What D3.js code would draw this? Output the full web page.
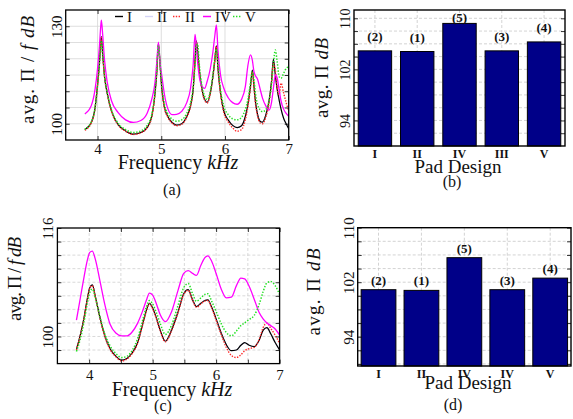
<!DOCTYPE html>
<html>
<head>
<meta charset="utf-8">
<script src="https://cdn.jsdelivr.net/npm/d3@7"></script>
<style>
  html, body { margin: 0; padding: 0; background: #fff; }
  svg { display: block; }
  text { font-family: "Liberation Serif", "Times New Roman", serif; fill: #111; }
</style>
</head>
<body>
<svg id="fig" width="573" height="419"></svg>
<script>
// ---------- (a) narrow-band spectra, Pad designs I-V ----------
const freqA = [3.8, 3.9, 3.96, 4.0, 4.03, 4.05, 4.06, 4.08, 4.11, 4.15, 4.22, 4.32, 4.44, 4.56, 4.68, 4.78,
  4.85, 4.9, 4.93, 4.955, 4.98, 5.01, 5.05, 5.1, 5.17, 5.24, 5.32, 5.4, 5.46, 5.5, 5.53, 5.55, 5.57, 5.6,
  5.64, 5.68, 5.72, 5.77, 5.81, 5.84, 5.865, 5.89, 5.93, 5.98, 6.05, 6.12, 6.19, 6.26, 6.32, 6.36, 6.4,
  6.43, 6.455, 6.48, 6.51, 6.55, 6.59, 6.64, 6.69, 6.73, 6.76, 6.79, 6.82, 6.85, 6.88, 6.92, 6.96, 7.0];

const specA_I = [98.2, 100.3, 104.8, 112.0, 119.0, 125.0, 126.8, 121.5, 114.5, 109.6, 103.8, 99.8, 97.8, 96.8, 97.3, 98.9,
  102.2, 109.0, 116.0, 124.7, 118.5, 110.5, 105.0, 102.3, 100.4, 99.6, 100.0, 102.2, 105.6, 110.5, 119.5, 125.5, 122.5, 116.0,
  110.5, 107.5, 106.6, 109.5, 114.5, 119.5, 124.0, 117.0, 109.5, 104.0, 101.2, 99.5, 98.8, 99.4, 102.3, 106.0, 111.5,
  116.5, 111.5, 106.5, 103.0, 100.8, 100.5, 102.6, 106.8, 113.0, 119.8, 115.0, 110.5, 107.3, 104.5, 101.7, 100.0, 98.5];

const specA_II = [98.2, 100.3, 104.8, 112.0, 119.0, 125.0, 126.8, 121.5, 114.5, 109.6, 103.8, 99.8, 97.8, 96.8, 97.3, 98.9,
  102.2, 109.0, 116.0, 124.7, 118.5, 110.5, 105.0, 102.3, 100.4, 99.6, 100.0, 102.2, 105.6, 110.5, 119.5, 125.5, 122.5, 116.0,
  110.5, 107.5, 106.6, 109.5, 114.5, 119.5, 124.0, 117.0, 109.5, 104.0, 101.2, 99.5, 98.8, 99.4, 102.3, 106.0, 111.5,
  116.5, 111.5, 106.5, 103.0, 100.8, 100.5, 102.6, 106.8, 113.0, 119.8, 115.0, 110.5, 107.3, 104.5, 101.7, 100.0, 98.5];

const specA_III = [98.0, 100.2, 104.6, 111.8, 118.8, 124.8, 126.5, 121.3, 114.3, 109.4, 103.7, 99.7, 97.7, 96.7, 97.2, 98.8,
  102.0, 108.8, 115.8, 124.5, 118.3, 110.3, 104.8, 102.1, 100.2, 99.4, 99.8, 102.0, 105.4, 110.3, 119.3, 125.3, 122.3, 115.8,
  110.3, 107.3, 106.4, 109.3, 114.3, 119.3, 123.8, 116.8, 109.2, 103.6, 100.6, 98.7, 97.7, 98.2, 101.3, 105.3, 111.0,
  116.0, 111.0, 106.0, 102.5, 100.3, 100.0, 102.0, 106.2, 112.5, 118.5, 116.5, 111.0, 109.0, 112.5, 109.5, 106.5, 104.0];

const specA_IV = [103.0, 105.5, 110.5, 117.0, 124.0, 130.0, 131.9, 127.5, 119.5, 113.0, 107.0, 103.5, 101.2, 100.4, 101.0, 103.3,
  107.5, 112.5, 119.0, 125.1, 119.0, 114.5, 109.0, 104.8, 102.8, 102.9, 103.8, 106.5, 111.0, 118.0, 127.5, 124.0, 119.0, 114.0,
  111.5, 110.9, 113.0, 117.0, 122.0, 127.0, 130.4, 122.5, 115.0, 111.0, 108.0, 106.5, 106.0, 107.5, 111.5, 118.0, 121.2,
  119.5, 116.0, 114.7, 113.8, 110.8, 107.8, 105.5, 104.2, 106.5, 111.0, 115.0, 114.0, 110.5, 107.0, 104.5, 103.2, 102.3];

const specA_V = [98.3, 100.5, 104.8, 111.5, 118.5, 124.5, 125.5, 121.5, 114.5, 109.8, 104.2, 100.2, 98.2, 97.3, 97.8, 99.6,
  102.8, 109.5, 116.5, 124.0, 119.0, 111.5, 106.0, 103.2, 101.4, 100.8, 101.2, 103.2, 106.5, 111.0, 118.0, 124.0, 124.5, 117.5,
  111.5, 108.5, 107.4, 110.0, 115.0, 120.0, 123.0, 118.5, 110.5, 105.5, 102.8, 101.5, 101.2, 102.0, 104.5, 107.5, 112.5,
  116.0, 113.5, 109.0, 106.0, 104.3, 103.7, 104.3, 107.0, 112.0, 118.5, 122.7, 119.0, 114.5, 114.0, 115.5, 117.0, 117.5];

// ---------- (c) smoothed spectra ----------
const freqC = [3.8, 3.86, 3.92, 3.97, 4.01, 4.05, 4.1, 4.17, 4.25, 4.33, 4.42, 4.51, 4.6, 4.68, 4.76, 4.84,
  4.9, 4.95, 5.0, 5.06, 5.12, 5.2, 5.3, 5.4, 5.49, 5.56, 5.63, 5.69, 5.76, 5.82, 5.87, 5.93, 6.0, 6.08,
  6.16, 6.24, 6.32, 6.39, 6.45, 6.52, 6.6, 6.68, 6.74, 6.8, 6.86, 6.93, 7.0];

const specC_I = [98.1, 100.2, 102.8, 105.5, 107.2, 107.6, 105.8, 102.8, 100.0, 98.2, 97.1, 96.5, 96.8, 97.6, 99.0, 101.7,
  103.8, 104.9, 104.2, 102.7, 100.9, 99.3, 101.0, 103.6, 106.3, 106.9, 105.4, 104.4, 104.9, 105.3, 105.4, 104.3, 102.6, 100.5,
  98.8, 97.9, 98.0, 98.7, 99.1, 98.7, 98.5, 99.5, 100.9, 101.3, 100.4, 99.1, 98.0];

const specC_II = [98.1, 100.2, 102.8, 105.5, 107.2, 107.6, 105.8, 102.8, 100.0, 98.2, 97.1, 96.5, 96.8, 97.6, 99.0, 101.7,
  103.8, 104.9, 104.2, 102.7, 100.9, 99.3, 101.0, 103.6, 106.3, 106.9, 105.4, 104.4, 104.9, 105.3, 105.4, 104.3, 102.6, 100.5,
  98.8, 97.9, 98.0, 98.7, 99.1, 98.7, 98.5, 99.5, 100.9, 101.3, 100.4, 99.1, 98.0];

const specC_III = [98.0, 100.1, 102.7, 105.4, 107.1, 107.5, 105.7, 102.7, 99.9, 98.1, 97.0, 96.4, 96.7, 97.5, 98.9, 101.6,
  103.7, 104.8, 104.1, 102.6, 100.8, 99.2, 100.9, 103.5, 106.2, 106.8, 105.3, 104.3, 104.8, 105.2, 105.3, 104.2, 102.4, 100.3,
  98.4, 97.2, 96.9, 97.3, 97.9, 98.2, 98.4, 99.6, 101.3, 102.0, 101.2, 100.2, 99.0];

const specC_IV = [102.4, 105.6, 108.8, 111.2, 112.4, 112.6, 111.3, 108.2, 104.6, 101.8, 100.5, 100.1, 100.1, 100.7, 101.9, 103.7,
  105.3, 106.4, 106.1, 104.8, 103.2, 102.2, 103.7, 106.8, 109.3, 109.7, 109.3, 109.0, 110.5, 111.6, 111.9, 111.1, 109.3, 107.0,
  105.7, 105.8, 107.5, 108.6, 108.5, 107.4, 105.5, 103.5, 102.6, 102.0, 101.6, 101.1, 100.2];

const specC_V = [97.8, 99.6, 102.2, 104.8, 106.5, 107.0, 105.6, 102.9, 100.3, 98.6, 97.5, 96.9, 97.1, 98.0, 99.6, 102.3,
  104.3, 105.3, 104.8, 103.5, 101.9, 100.3, 101.7, 104.6, 107.2, 107.8, 106.3, 105.2, 105.7, 106.2, 106.3, 105.2, 103.7, 101.9,
  100.6, 100.1, 100.8, 101.6, 102.0, 102.5, 103.1, 104.8, 106.6, 107.9, 108.1, 107.5, 106.2];

// ---------- (b), (d) band-averaged levels ----------
const padsB = ["I", "II", "IV", "III", "V"];
const avgB = [104.9, 104.8, 109.2, 104.9, 106.3];
const rankB = ["(2)", "(1)", "(5)", "(3)", "(4)"];

const padsD = ["I", "II", "IV", "IV", "V"];
const avgD = [100.9, 100.8, 105.6, 100.9, 102.6];
const rankD = ["(2)", "(1)", "(5)", "(3)", "(4)"];

// legend entries of the spectra
const legendNames = ["I", "II", "II", "IV", "V"];

const lineStyles = [
  { color: "#d4d4f6", dash: null, width: 1.2 },       // II (light)
  { color: "#000000", dash: null, width: 1.2 },       // I
  { color: "#ff2a2a", dash: "1.4,1.4", width: 1.4 },  // III
  { color: "#ff00ff", dash: null, width: 1.3 },       // IV
  { color: "#22e022", dash: "1.4,1.6", width: 1.5 }   // V
];

const svg = d3.select("#fig");

function styleAxis(g, size, weight) {
  g.select(".domain").remove();
  g.selectAll(".tick line").attr("stroke", "#000").attr("stroke-width", 0.8);
  g.selectAll("text")
    .attr("font-family", "'Liberation Serif','Times New Roman',serif")
    .attr("font-size", size)
    .attr("font-weight", weight || "normal")
    .attr("fill", "#111");
}

function rotateYLabels(g) {
  g.selectAll(".tick text")
    .attr("transform", "rotate(-90)")
    .attr("text-anchor", "middle")
    .attr("x", 0)
    .attr("y", -4)
    .attr("dy", 0);
}

function linePanel(o) {
  const x = d3.scaleLinear().domain(o.xDomain).range([o.left, o.right]);
  const y = d3.scaleLinear().domain(o.yDomain).range([o.bottom, o.top]);
  const g = svg.append("g");

  // grid
  const grid = g.append("g").attr("stroke", o.gridColor).attr("stroke-width", 0.8)
    .attr("stroke-dasharray", o.gridDash);
  grid.selectAll("line.gx").data(o.xGrid).join("line").attr("class", "gx")
    .attr("x1", d => x(d)).attr("x2", d => x(d)).attr("y1", o.top).attr("y2", o.bottom);
  grid.selectAll("line.gy").data(o.yGrid).join("line").attr("class", "gy")
    .attr("x1", o.left).attr("x2", o.right).attr("y1", d => y(d)).attr("y2", d => y(d));

  // curves
  const clipId = "clip-" + o.id;
  svg.append("clipPath").attr("id", clipId).append("rect")
    .attr("x", o.left).attr("y", o.top).attr("width", o.right - o.left).attr("height", o.bottom - o.top);
  const line = d3.line().x((d, i) => x(o.freq[i])).y(d => y(d)).curve(d3.curveMonotoneX);
  g.append("g").attr("clip-path", `url(#${clipId})`)
    .selectAll("path").data(o.series).join("path")
    .attr("d", s => line(s.values))
    .attr("fill", "none")
    .attr("stroke", s => s.style.color)
    .attr("stroke-width", s => s.style.width)
    .attr("stroke-dasharray", s => s.style.dash)
    .attr("stroke-linejoin", "round");

  // axes
  const xFmt = d => o.xLabels.includes(d) ? d3.format("d")(d) : "";
  g.append("g").attr("transform", `translate(0,${o.bottom})`)
    .call(d3.axisBottom(x).tickValues(o.xTicks).tickSizeInner(-4).tickSizeOuter(0).tickPadding(o.xPad).tickFormat(xFmt))
    .call(a => styleAxis(a, 15));
  g.append("g").attr("transform", `translate(0,${o.top})`)
    .call(d3.axisTop(x).tickValues(o.xTicks).tickSizeInner(-4).tickSizeOuter(0).tickFormat(""))
    .call(a => styleAxis(a, 15));
  const yFmt = d => o.yLabels.includes(d) ? d3.format("d")(d) : "";
  g.append("g").attr("transform", `translate(${o.left},0)`)
    .call(d3.axisLeft(y).tickValues(o.yTicks).tickSizeInner(-4).tickSizeOuter(0).tickFormat(yFmt))
    .call(a => styleAxis(a, 15))
    .call(rotateYLabels);
  g.append("g").attr("transform", `translate(${o.right},0)`)
    .call(d3.axisRight(y).tickValues(o.yTicks).tickSizeInner(-4).tickSizeOuter(0).tickFormat(""))
    .call(a => styleAxis(a, 15));

  // frame
  g.append("rect").attr("x", o.left).attr("y", o.top)
    .attr("width", o.right - o.left).attr("height", o.bottom - o.top)
    .attr("fill", "none").attr("stroke", "#000").attr("stroke-width", 1.3);

  // axis titles
  const yt = g.append("text")
    .attr("transform", `translate(${o.yTitle.x},${o.yTitle.y}) rotate(-90)`)
    .attr("text-anchor", "middle").attr("font-size", 19)
    .attr("textLength", o.yTitle.len).attr("lengthAdjust", "spacing");
  yt.append("tspan").text("avg. \u03A0 / ");
  yt.append("tspan").attr("font-style", "italic").text("f");
  yt.append("tspan").text(" ");
  yt.append("tspan").attr("font-style", "italic").text("dB");

  const xt = g.append("text").attr("x", o.xTitle.x).attr("y", o.xTitle.y)
    .attr("text-anchor", "middle").attr("font-size", 20);
  xt.append("tspan").text("Frequency ");
  xt.append("tspan").attr("font-style", "italic").text("kHz");

  g.append("text").attr("x", o.caption.x).attr("y", o.caption.y)
    .attr("text-anchor", "middle").attr("font-size", 16).text(o.caption.text);

  return { x, y, g };
}

function barPanel(o) {
  const idx = d3.range(o.values.length);
  const x = d3.scaleBand().domain(idx).range([o.left, o.right]).paddingInner(o.padIn).paddingOuter(o.padOut);
  const y = d3.scaleLinear().domain(o.yDomain).range([o.bottom, o.top]);
  const g = svg.append("g");

  const grid = g.append("g").attr("stroke", "#c8c8c8").attr("stroke-width", 0.8).attr("stroke-dasharray", "3,2");
  grid.selectAll("line.gy").data(o.yGrid).join("line").attr("class", "gy")
    .attr("x1", o.left).attr("x2", o.right).attr("y1", d => y(d)).attr("y2", d => y(d));
  grid.selectAll("line.gx").data(idx).join("line").attr("class", "gx")
    .attr("x1", i => x(i) + x.bandwidth() / 2).attr("x2", i => x(i) + x.bandwidth() / 2)
    .attr("y1", o.top).attr("y2", o.bottom);

  g.append("g").selectAll("rect").data(idx).join("rect")
    .attr("x", i => x(i)).attr("width", x.bandwidth())
    .attr("y", i => y(o.values[i])).attr("height", i => o.bottom - y(o.values[i]))
    .attr("fill", "#000088").attr("stroke", "#000").attr("stroke-width", 1);

  g.append("g").selectAll("text").data(idx).join("text")
    .attr("x", i => x(i) + x.bandwidth() / 2)
    .attr("y", i => Math.max(y(o.values[i]) - o.labelGap, o.top + 12))
    .attr("text-anchor", "middle").attr("font-size", 13).attr("font-weight", "bold")
    .text(i => o.ranks[i]);

  g.append("g").attr("transform", `translate(0,${o.bottom})`)
    .call(d3.axisBottom(x).tickSize(0).tickPadding(3).tickFormat(i => o.labels[i]))
    .call(a => styleAxis(a, 12, "bold"));
  const yFmt = d => o.yLabels.includes(d) ? d3.format("d")(d) : "";
  g.append("g").attr("transform", `translate(${o.left},0)`)
    .call(d3.axisLeft(y).tickValues(o.yTicks).tickSizeInner(-4).tickSizeOuter(0).tickFormat(yFmt))
    .call(a => styleAxis(a, o.yFont))
    .call(rotateYLabels);
  g.append("g").attr("transform", `translate(${o.right},0)`)
    .call(d3.axisRight(y).tickValues(o.yTicks).tickSizeInner(-4).tickSizeOuter(0).tickFormat(""))
    .call(a => styleAxis(a, o.yFont));

  g.append("rect").attr("x", o.left).attr("y", o.top)
    .attr("width", o.right - o.left).attr("height", o.bottom - o.top)
    .attr("fill", "none").attr("stroke", "#000").attr("stroke-width", 1.4);

  const yt = g.append("text")
    .attr("transform", `translate(${o.yTitle.x},${o.yTitle.y}) rotate(-90)`)
    .attr("text-anchor", "middle").attr("font-size", 19)
    .attr("textLength", o.yTitle.len).attr("lengthAdjust", "spacing");
  yt.append("tspan").text("avg. \u03A0 ");
  yt.append("tspan").attr("font-style", "italic").text("dB");

  g.append("text").attr("x", o.xTitle.x).attr("y", o.xTitle.y)
    .attr("text-anchor", "middle").attr("font-size", 19).text("Pad Design");
  g.append("text").attr("x", o.caption.x).attr("y", o.caption.y)
    .attr("text-anchor", "middle").attr("font-size", 16).text(o.caption.text);
}

// draw order: light II underneath, then I, III, IV, V
const order = [1, 0, 2, 3, 4];

const seriesA = [specA_II, specA_I, specA_III, specA_IV, specA_V]
  .map((values, k) => ({ values, style: lineStyles[k] }));
const seriesC = [specC_II, specC_I, specC_III, specC_IV, specC_V]
  .map((values, k) => ({ values, style: lineStyles[k] }));

const panelA = linePanel({
  id: "a", freq: freqA, series: seriesA,
  left: 65.7, right: 288.7, top: 10, bottom: 140,
  xDomain: [3.5, 7], yDomain: [95, 135],
  xGrid: [4, 5, 6], yGrid: [100, 105, 110, 115, 120, 125, 130],
  gridColor: "#d6d6d6", gridDash: null,
  xTicks: [4, 5, 6, 7], xLabels: [4, 5, 6, 7], xPad: 3,
  yTicks: [100, 105, 110, 115, 120, 125, 130], yLabels: [100, 130],
  yTitle: { x: 34, y: 70, len: 108 },
  xTitle: { x: 178, y: 169 },
  caption: { x: 172, y: 195, text: "(a)" }
});

// legend of (a): solid / dotted samples followed by design names
const legendSlots = [115, 145, 173, 203, 233];
const legendStyle = [lineStyles[1], lineStyles[0], lineStyles[2], lineStyles[3], lineStyles[4]];
const leg = panelA.g.append("g");
legendNames.forEach((name, k) => {
  const lx = legendSlots[k];
  leg.append("line").attr("x1", lx).attr("x2", lx + 8).attr("y1", 16.5).attr("y2", 16.5)
    .attr("stroke", legendStyle[k].color).attr("stroke-width", legendStyle[k].width + 0.2)
    .attr("stroke-dasharray", legendStyle[k].dash);
  leg.append("text").attr("x", lx + 12).attr("y", 21.5).attr("font-size", 15).text(name);
});

linePanel({
  id: "c", freq: freqC, series: seriesC,
  left: 57.4, right: 279.6, top: 228, bottom: 363.6,
  xDomain: [3.5, 7], yDomain: [96, 116],
  xGrid: [4, 4.5, 5, 5.5, 6, 6.5], yGrid: [98, 100, 102, 104, 106, 108, 110, 112, 114],
  gridColor: "#cfcfcf", gridDash: "3,2",
  xTicks: [4, 4.5, 5, 5.5, 6, 6.5, 7], xLabels: [4, 5, 6, 7], xPad: 6,
  yTicks: [98, 100, 102, 104, 106, 108, 110, 112, 114, 116], yLabels: [100, 116],
  yTitle: { x: 21, y: 279, len: 84 },
  xTitle: { x: 172, y: 396 },
  caption: { x: 163, y: 411, text: "(c)" }
});

barPanel({
  values: avgB, ranks: rankB, labels: padsB,
  left: 354, right: 565, top: 10, bottom: 146,
  padIn: 0.21, padOut: 0.1,
  yDomain: [90, 111.3], yGrid: [92, 94, 96, 98, 100, 102, 104, 106, 108, 110],
  yTicks: [92, 94, 96, 98, 100, 102, 104, 106, 108, 110], yLabels: [94, 102, 110], yFont: 14,
  labelGap: 10,
  yTitle: { x: 328, y: 78, len: 80 },
  xTitle: { x: 458, y: 173 },
  caption: { x: 452, y: 187, text: "(b)" }
});

barPanel({
  values: avgD, ranks: rankD, labels: padsD,
  left: 357.7, right: 571, top: 227.7, bottom: 366,
  padIn: 0.19, padOut: 0.08,
  yDomain: [89.7, 110], yGrid: [90, 92, 94, 96, 98, 100, 102, 104, 106, 108],
  yTicks: [90, 92, 94, 96, 98, 100, 102, 104, 106, 108, 110], yLabels: [94, 102, 110], yFont: 15,
  labelGap: 5,
  yTitle: { x: 320, y: 292, len: 87 },
  xTitle: { x: 468, y: 389 },
  caption: { x: 453, y: 410, text: "(d)" }
});
</script>
</body>
</html>
